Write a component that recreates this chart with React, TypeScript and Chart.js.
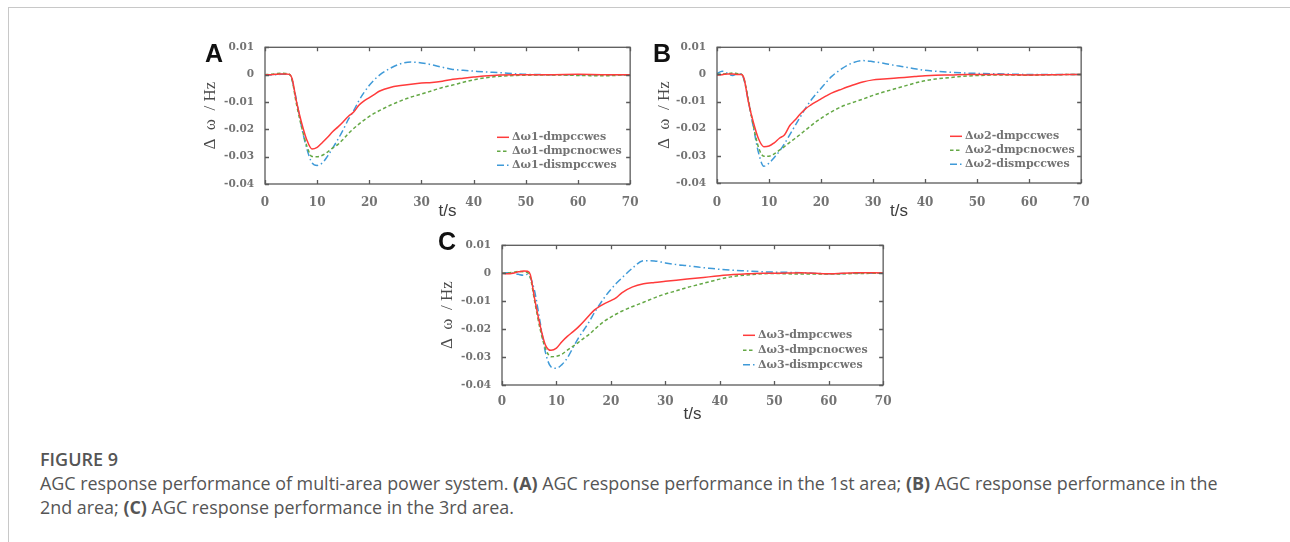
import React, { useEffect, useRef } from "react";
import { Chart, registerables } from "chart.js";

Chart.register(...registerables);

// ---------- data ----------
const TIME = [0, 1, 2, 3, 4, 4.7, 5.2, 6, 7, 8, 9, 10, 11, 12, 13, 14, 15, 16, 17, 18, 19, 20, 21, 22, 24, 26, 28, 30, 32, 34, 36, 38, 40, 42, 45, 48, 50, 55, 60, 65, 70];

const X_TICKS = [0, 10, 20, 30, 40, 50, 60, 70];
const Y_TICKS = [0.01, 0, -0.01, -0.02, -0.03, -0.04];

// Panel A (area 1)
const A_DMPCCWES = [0, 0, 0.0001, 0.0002, 0.0002, 0.0001, -0.0015, -0.0095, -0.0175, -0.0238, -0.0272, -0.0266, -0.0248, -0.0229, -0.0208, -0.0191, -0.0172, -0.0152, -0.0137, -0.0112, -0.0096, -0.0084, -0.0072, -0.006, -0.0047, -0.004, -0.0035, -0.0031, -0.0029, -0.0024, -0.0017, -0.0013, -0.0009, -0.0005, -0.0001, 0, 0, 0, 0.0001, 0, 0];
const A_DMPCNOCWES = [0, 0.0001, 0.0003, 0.0005, 0.0004, 0.0001, -0.002, -0.0105, -0.019, -0.026, -0.0299, -0.03, -0.0295, -0.0283, -0.0268, -0.0255, -0.0236, -0.0215, -0.0197, -0.0181, -0.0166, -0.0153, -0.0141, -0.0131, -0.0112, -0.0096, -0.0082, -0.0071, -0.0059, -0.0047, -0.0038, -0.0028, -0.0019, -0.0012, -0.0006, -0.0003, -0.0002, -0.0001, -0.0003, -0.0004, 0];
const A_DISMPCCWES = [-0.0002, -0.0001, 0, 0.0001, 0.0001, 0, -0.002, -0.009, -0.019, -0.027, -0.0322, -0.0332, -0.0323, -0.0298, -0.0268, -0.0236, -0.0201, -0.0163, -0.0132, -0.0095, -0.0065, -0.0039, -0.0018, -0.0001, 0.0023, 0.004, 0.0046, 0.0043, 0.0036, 0.0027, 0.0019, 0.0016, 0.0013, 0.001, 0.0007, 0.0003, 0.0001, 0, 0, 0, 0];

// Panel B (area 2)
const B_DMPCCWES = [-0.0002, -0.0001, 0.0002, 0.0002, 0, 0, -0.0015, -0.0098, -0.0177, -0.0238, -0.0266, -0.0264, -0.0252, -0.0235, -0.0222, -0.0188, -0.0168, -0.0146, -0.0127, -0.0113, -0.0101, -0.009, -0.0079, -0.0069, -0.0054, -0.004, -0.0028, -0.002, -0.0017, -0.0014, -0.0011, -0.0008, -0.0005, -0.0003, -0.0002, 0, 0, 0, -0.0002, -0.0001, 0];
const B_DMPCNOCWES = [0, 0.0001, 0.0003, 0.0005, 0.0003, 0.0001, -0.0018, -0.009, -0.019, -0.027, -0.0301, -0.0301, -0.0293, -0.0279, -0.0265, -0.025, -0.0236, -0.0221, -0.0205, -0.019, -0.0175, -0.0162, -0.0149, -0.0138, -0.0118, -0.0104, -0.0091, -0.0077, -0.0065, -0.0054, -0.0043, -0.0032, -0.0023, -0.0017, -0.0011, -0.0006, -0.0004, -0.0002, -0.0003, -0.0001, 0];
const B_DISMPCCWES = [0.0003, 0.0012, 0.0004, -0.0004, 0.0003, 0, -0.002, -0.0095, -0.0195, -0.029, -0.0338, -0.0327, -0.0306, -0.0283, -0.0254, -0.0222, -0.0189, -0.0157, -0.0125, -0.0097, -0.0073, -0.0051, -0.0029, -0.0008, 0.0021, 0.0042, 0.0051, 0.0047, 0.0041, 0.0034, 0.0028, 0.0021, 0.0015, 0.0012, 0.0008, 0.0005, 0.0004, 0.0002, 0, 0, 0];

// Panel C (area 3)
const C_DMPCCWES = [0, -0.0002, 0, 0.0005, 0.0008, 0.0007, -0.0005, -0.0092, -0.0187, -0.0258, -0.0276, -0.0268, -0.0245, -0.0226, -0.021, -0.0193, -0.0173, -0.0151, -0.0131, -0.0118, -0.0107, -0.0098, -0.0087, -0.007, -0.0049, -0.0038, -0.0033, -0.0029, -0.0025, -0.0021, -0.0017, -0.0013, -0.0009, -0.0005, -0.0002, 0, 0, 0.0002, -0.0002, 0.0002, 0.0001];
const C_DMPCNOCWES = [0, 0.0001, 0.0003, 0.0006, 0.0005, 0.0002, -0.0015, -0.01, -0.02, -0.027, -0.0299, -0.0297, -0.029, -0.0275, -0.0262, -0.0248, -0.0233, -0.0219, -0.0201, -0.0184, -0.0169, -0.0157, -0.0146, -0.0136, -0.0119, -0.0104, -0.0088, -0.0074, -0.0063, -0.0051, -0.0041, -0.0031, -0.0021, -0.0013, -0.0006, -0.0002, -0.0001, -0.0003, -0.0003, -0.0001, 0];
const C_DISMPCCWES = [0, 0.0002, 0, -0.0004, -0.0007, -0.0004, -0.0015, -0.0065, -0.0175, -0.0285, -0.0335, -0.034, -0.0327, -0.0303, -0.0268, -0.0233, -0.0204, -0.0174, -0.014, -0.011, -0.0082, -0.0058, -0.0036, -0.0017, 0.0019, 0.0045, 0.0044, 0.0037, 0.0031, 0.0027, 0.0022, 0.0018, 0.0014, 0.0011, 0.0008, 0.0005, 0.0004, 0.0002, -0.0002, 0, 0];

const LABELS_A = ["Δω1-dmpccwes", "Δω1-dmpcnocwes", "Δω1-dismpccwes"];
const LABELS_B = ["Δω2-dmpccwes", "Δω2-dmpcnocwes", "Δω2-dismpccwes"];
const LABELS_C = ["Δω3-dmpccwes", "Δω3-dmpcnocwes", "Δω3-dismpccwes"];

const X_TITLE = "t/s";
const Y_TITLE = "Δ  ω  / Hz";

// ---------- styles ----------
const COLORS = ["#ff3b3b", "#64a845", "#3f9ad8"];
const DASHES: number[][] = [[], [3.5, 2.5], [7, 3, 1.5, 3]];
const LABEL_GRAY = "#737373";
const FRAME = "#5a5a5a";

type PanelCfg = {
  left: number; top: number; w: number; h: number;
  yW: number; padTop: number; padRight: number; xH: number;
  xTickPad: number; xTitlePadB: number; yTitlePad: number;
  legendX: number; legendRows: number[];
  series: number[][]; labels: string[];
};

const PANELS: PanelCfg[] = [
  { left: 180, top: 30, w: 470, h: 195, yW: 85, padTop: 15, padRight: 13, xH: 41, xTickPad: 11.5, xTitlePadB: 3, yTitlePad: 20, legendX: 232, legendRows: [90, 104, 118], series: [A_DMPCCWES, A_DMPCNOCWES, A_DISMPCCWES], labels: LABELS_A },
  { left: 632, top: 30, w: 470, h: 195, yW: 85, padTop: 15, padRight: 13, xH: 42, xTickPad: 12.5, xTitlePadB: 3, yTitlePad: 22, legendX: 233, legendRows: [89, 103, 117], series: [B_DMPCCWES, B_DMPCNOCWES, B_DISMPCCWES], labels: LABELS_B },
  { left: 417, top: 228, w: 484, h: 197, yW: 85, padTop: 15, padRight: 13, xH: 40, xTickPad: 9.5, xTitlePadB: 0, yTitlePad: 20, legendX: 241, legendRows: [90, 105, 119.5], series: [C_DMPCCWES, C_DMPCNOCWES, C_DISMPCCWES], labels: LABELS_C },
];

const framePlugin = {
  id: "frameTicks",
  afterDatasetsDraw(chart: any) {
    const { ctx, chartArea: a, scales } = chart;
    const xs = scales.x, ys = scales.y;
    ctx.save();
    ctx.strokeStyle = FRAME;
    ctx.lineWidth = 1.3;
    ctx.setLineDash([]);
    ctx.strokeRect(a.left, a.top, a.right - a.left, a.bottom - a.top);
    const tl = 4;
    ctx.beginPath();
    X_TICKS.forEach((v) => {
      const px = Math.round(xs.getPixelForValue(v)) + 0.5;
      ctx.moveTo(px, a.top); ctx.lineTo(px, a.top + tl);
      ctx.moveTo(px, a.bottom); ctx.lineTo(px, a.bottom - tl);
    });
    Y_TICKS.forEach((v) => {
      const py = Math.round(ys.getPixelForValue(v)) + 0.5;
      ctx.moveTo(a.left, py); ctx.lineTo(a.left + tl, py);
      ctx.moveTo(a.right, py); ctx.lineTo(a.right - tl, py);
    });
    ctx.stroke();
    ctx.restore();
  },
  afterDraw(chart: any, _args: any, opts: any) {
    const { ctx, chartArea: a } = chart;
    const cfg: PanelCfg = opts.cfg;
    ctx.save();
    ctx.font = "bold 11px 'DejaVu Serif'";
    ctx.textBaseline = "middle";
    ctx.textAlign = "left";
    cfg.labels.forEach((lab, i) => {
      const y = a.top + cfg.legendRows[i];
      const x0 = a.left + cfg.legendX;
      ctx.strokeStyle = COLORS[i];
      ctx.lineWidth = 1.5;
      ctx.setLineDash(DASHES[i]);
      ctx.beginPath();
      ctx.moveTo(x0, y);
      ctx.lineTo(x0 + 12, y);
      ctx.stroke();
      ctx.setLineDash([]);
      ctx.fillStyle = LABEL_GRAY;
      ctx.fillText(lab, x0 + 15, y);
    });
    ctx.restore();
  },
};

function Panel({ cfg }: { cfg: PanelCfg }) {
  const ref = useRef<HTMLCanvasElement>(null);
  useEffect(() => {
    const chart = new Chart(ref.current as HTMLCanvasElement, {
      type: "line",
      data: {
        datasets: cfg.series.map((vals, i) => ({
          label: cfg.labels[i],
          data: TIME.map((t, k) => ({ x: t, y: vals[k] })),
          borderColor: COLORS[i],
          borderWidth: 1.5,
          borderDash: DASHES[i],
          pointRadius: 0,
          fill: false,
          cubicInterpolationMode: "monotone",
        })),
      },
      options: {
        animation: false,
        responsive: false,
        devicePixelRatio: 1,
        layout: { padding: { left: 0, top: cfg.padTop, right: cfg.padRight, bottom: 0 } },
        plugins: { legend: { display: false }, tooltip: { enabled: false }, frameTicks: { cfg } } as any,
        scales: {
          x: {
            type: "linear",
            min: 0,
            max: 70,
            afterBuildTicks: (s: any) => { s.ticks = X_TICKS.map((v) => ({ value: v })); },
            afterFit: (s: any) => { s.height = cfg.xH; },
            grid: { display: false, drawTicks: false },
            border: { display: false },
            ticks: {
              padding: cfg.xTickPad,
              color: LABEL_GRAY,
              maxRotation: 0,
              autoSkip: false,
              font: { family: "'DejaVu Serif'", weight: "bold", size: 12 },
              callback: (v: any) => String(v),
            },
            title: {
              display: true,
              text: X_TITLE,
              color: "#3c3c3c",
              padding: { top: 0, bottom: cfg.xTitlePadB },
              font: { family: "'Liberation Sans'", size: 17 },
            },
          },
          y: {
            type: "linear",
            min: -0.04,
            max: 0.01,
            afterBuildTicks: (s: any) => { s.ticks = Y_TICKS.map((v) => ({ value: v })); },
            afterFit: (s: any) => { s.width = cfg.yW; },
            grid: { display: false, drawTicks: false },
            border: { display: false },
            ticks: {
              padding: 11,
              color: LABEL_GRAY,
              autoSkip: false,
              font: { family: "'DejaVu Serif'", weight: "bold", size: 10.5 },
              callback: (v: any) => (Math.abs(v) < 1e-12 ? "0" : Number(v).toFixed(2)),
            },
            title: {
              display: true,
              text: Y_TITLE,
              color: "#4a4a4a",
              padding: { top: cfg.yTitlePad, bottom: 0 },
              font: { family: "'Liberation Serif'", size: 17 },
            },
          },
        },
      } as any,
      plugins: [framePlugin],
    });
    return () => chart.destroy();
  }, [cfg]);
  return (
    <canvas
      ref={ref}
      width={cfg.w}
      height={cfg.h}
      style={{ position: "absolute", left: cfg.left, top: cfg.top, width: cfg.w, height: cfg.h }}
    />
  );
}

const letterStyle: React.CSSProperties = {
  position: "absolute",
  fontFamily: "'Liberation Sans', Arial, sans-serif",
  fontWeight: "bold",
  fontSize: 25,
  lineHeight: "25px",
  color: "#111",
};

export default function App() {
  return (
    <div style={{ position: "absolute", left: 0, top: 0, width: 1290, height: 542, background: "#fff", overflow: "hidden" }}>
      <div style={{ position: "absolute", left: 8, top: 7, width: 1282, height: 1, background: "#c8c8c8" }} />
      <div style={{ position: "absolute", left: 8, top: 7, width: 1, height: 535, background: "#c8c8c8" }} />
      {PANELS.map((p, i) => <Panel key={i} cfg={p} />)}
      <div style={{ ...letterStyle, left: 205, top: 41 }}>A</div>
      <div style={{ ...letterStyle, left: 653, top: 41 }}>B</div>
      <div style={{ ...letterStyle, left: 438, top: 229 }}>C</div>
      <div style={{ position: "absolute", left: 40, top: 447, fontFamily: "'Open Sans', sans-serif", fontWeight: 600, fontSize: 18, lineHeight: "24px", color: "#555" }}>FIGURE 9</div>
      <div style={{ position: "absolute", left: 40, top: 471, fontFamily: "'Open Sans', sans-serif", fontSize: 17.9, lineHeight: "24px", color: "#555", whiteSpace: "nowrap" }}>
        AGC response performance of multi-area power system. <b>(A)</b> AGC response performance in the 1st area; <b>(B)</b> AGC response performance in the
        <br />
        2nd area; <b>(C)</b> AGC response performance in the 3rd area.
      </div>
    </div>
  );
}
